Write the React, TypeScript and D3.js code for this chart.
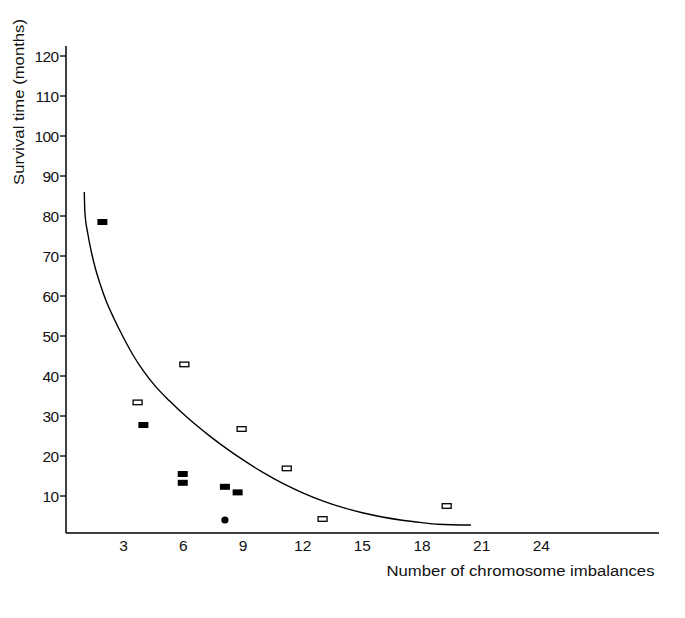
import React from "react";
import * as d3 from "d3";

const xTicks = [3, 6, 9, 12, 15, 18, 21, 24];
const yTicks = [10, 20, 30, 40, 50, 60, 70, 80, 90, 100, 110, 120];

// filled rectangles
const filledX = [1.93, 3.99, 5.97, 5.97, 8.09, 8.73];
const filledY = [78.5, 27.75, 15.5, 13.3, 12.3, 10.9];
// open rectangles
const openX = [3.7, 6.05, 8.93, 11.2, 13.0, 19.24];
const openY = [33.4, 42.9, 26.75, 16.9, 4.25, 7.5];
// filled dot
const dotX = [8.09];
const dotY = [4];

// fitted curve
const curveX = [1.02, 1.05, 1.2, 1.4, 1.6, 1.85, 2.1, 2.5, 3.0, 3.5, 4.0, 4.6, 5.3, 6.2, 7.3, 8.3, 9.1, 10.0, 11.0, 12.0, 13.0, 14.0, 15.0, 16.0, 17.0, 18.0, 18.8, 20.46];
const curveY = [86, 81, 75.5, 70.5, 66.5, 62.5, 59, 54.5, 49.5, 45, 41.2, 37.4, 33.8, 29.6, 25.1, 21.4, 18.7, 15.9, 13.15, 10.8, 8.8, 7.15, 5.8, 4.75, 3.95, 3.35, 2.95, 2.75];

const W = 685;
const H = 618;

export default function App() {
  const x = d3.scaleLinear().domain([0, 30]).range([64, 660.7]);
  const y = d3.scaleLinear().domain([0, 120]).range([536, 56]);
  const axisX = 66;
  const axisY = 533;
  const font = "'Liberation Sans', Arial, Helvetica, sans-serif";

  const line = d3
    .line<number>()
    .x((i) => x(curveX[i]))
    .y((i) => y(curveY[i]))
    .curve(d3.curveMonotoneX);
  const path = line(curveX.map((_, i) => i)) || "";

  return (
    <svg
      width={W}
      height={H}
      style={{ position: "absolute", left: 0, top: 0, background: "#fff" }}
      fontFamily={font}
    >
      <rect x={0} y={0} width={W} height={H} fill="#fff" />
      {/* axes */}
      <line x1={axisX} y1={46} x2={axisX} y2={axisY} stroke="#000" strokeWidth={1.5} />
      <line x1={axisX} y1={axisY} x2={659} y2={axisY} stroke="#000" strokeWidth={1.5} />
      {yTicks.map((t) => (
        <g key={t}>
          <line x1={60} x2={axisX} y1={y(t)} y2={y(t)} stroke="#000" strokeWidth={1.3} />
          <text
            x={58.5}
            y={y(t)}
            dy="0.36em"
            textAnchor="end"
            fontSize={15.5}
            letterSpacing={-0.6}
            fill="#111"
          >
            {t}
          </text>
        </g>
      ))}
      {xTicks.map((t) => (
        <text key={t} x={x(t)} y={551} textAnchor="middle" fontSize={15.5} fill="#111">
          {t}
        </text>
      ))}
      <text
        x={386.5}
        y={576}
        fontSize={15.5}
        textLength={268}
        lengthAdjust="spacingAndGlyphs"
        fill="#111"
      >
        Number of chromosome imbalances
      </text>
      <text
        transform={`translate(24,${102}) rotate(-90)`}
        textAnchor="middle"
        fontSize={15}
        textLength={166}
        lengthAdjust="spacingAndGlyphs"
        fill="#111"
      >
        Survival time (months)
      </text>

      {/* curve */}
      <path d={path} fill="none" stroke="#000" strokeWidth={1.4} />

      {/* points */}
      {filledX.map((v, i) => (
        <rect
          key={"f" + i}
          x={x(v) - 5}
          y={y(filledY[i]) - 3}
          width={10}
          height={6}
          fill="#000"
        />
      ))}
      {openX.map((v, i) => (
        <rect
          key={"o" + i}
          x={x(v) - 4.5}
          y={y(openY[i]) - 2.3}
          width={9}
          height={4.6}
          fill="#fff"
          stroke="#000"
          strokeWidth={1.3}
        />
      ))}
      {dotX.map((v, i) => (
        <circle key={"d" + i} cx={x(v)} cy={y(dotY[i])} r={3.6} fill="#000" />
      ))}
    </svg>
  );
}
